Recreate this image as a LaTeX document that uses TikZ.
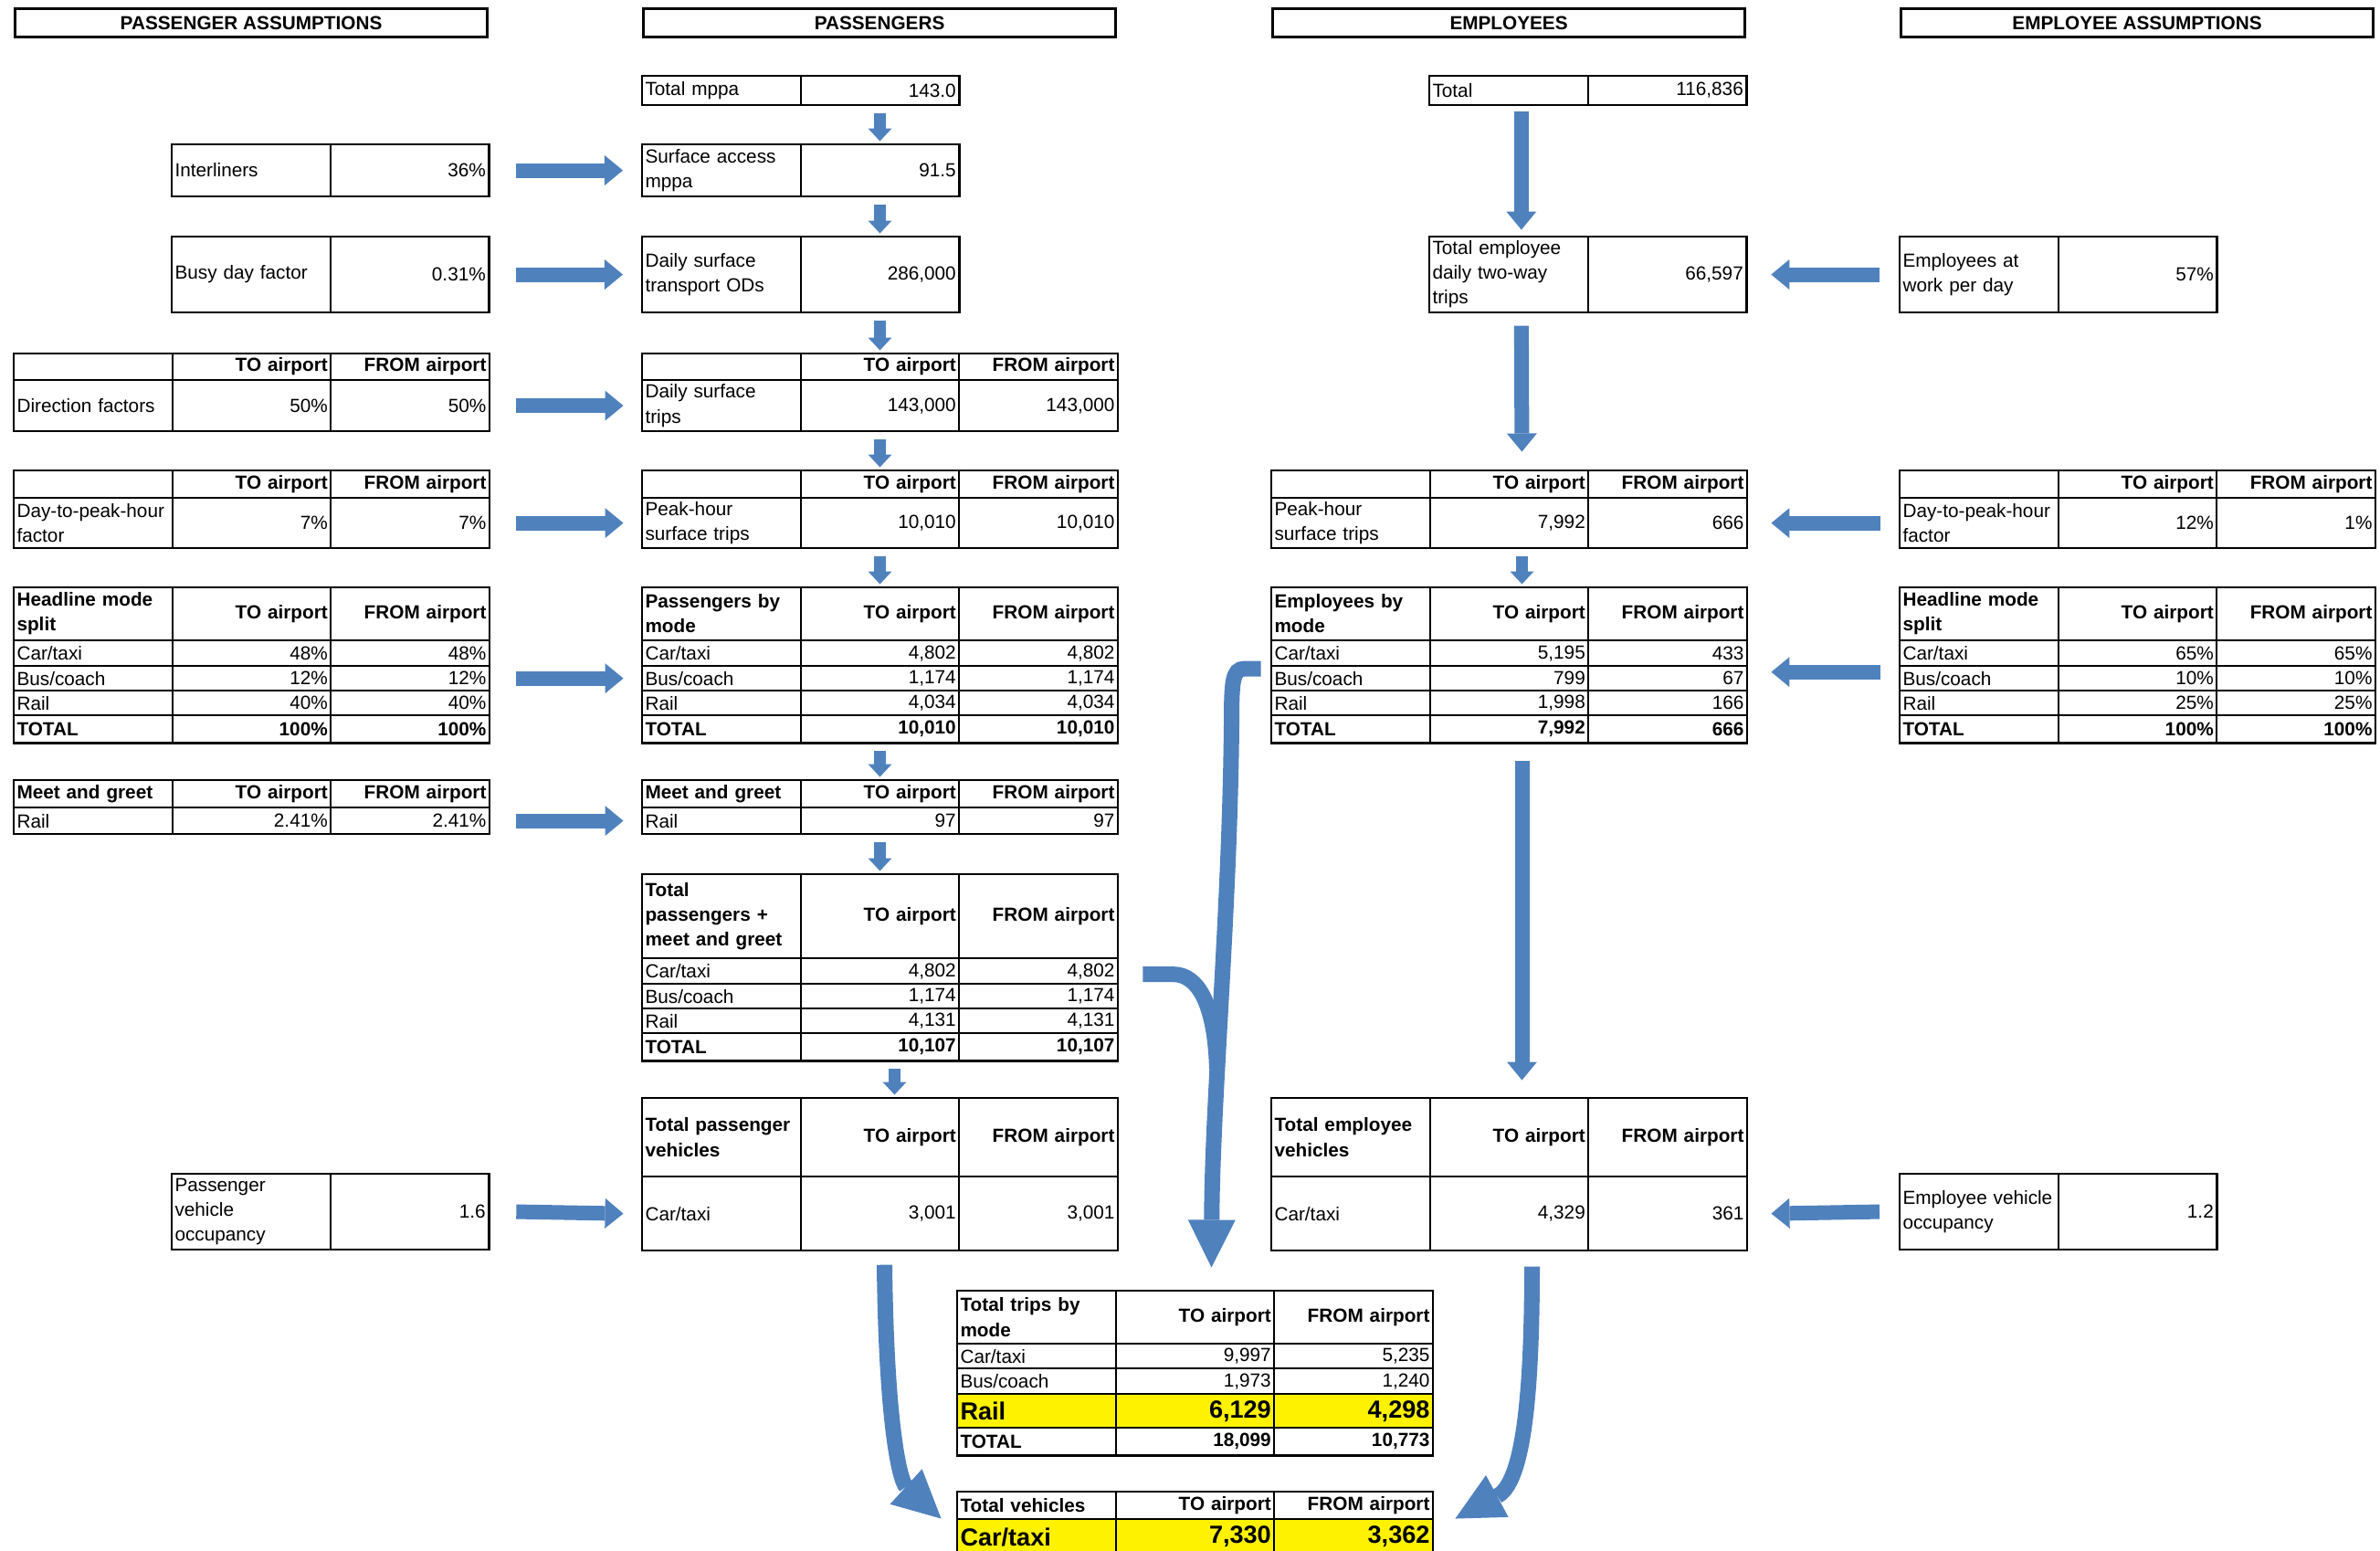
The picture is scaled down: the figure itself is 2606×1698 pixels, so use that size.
\documentclass[tikz,border=0pt]{standalone}
\usepackage{fontspec}
\setmainfont{Liberation Sans}
\usetikzlibrary{arrows.meta, positioning, matrix, calc}
\definecolor{arrblue}{RGB}{79,129,189}
\newcommand{\tabfont}{\fontsize{5.9}{7.7}\selectfont}
\newcommand{\yfont}{\fontsize{7.7}{9}\selectfont\bfseries}

\begin{document}
\begin{tikzpicture}[x=0.01cm, y=-0.01cm,
    tbl/.style={matrix of nodes, nodes in empty cells, draw, line width=0.7pt, inner sep=0pt, outer sep=0pt,
      anchor=north west, column sep=0pt, row sep=0pt,
      nodes={draw, line width=0.3pt, outer sep=0pt, inner xsep=0.03cm, inner ysep=0pt, text width=1.665cm,
        align=right, anchor=center, font=\tabfont},
      column 1/.style={nodes={align=left}}},
    hrow/.style={nodes={minimum height=#1, font=\tabfont\bfseries}},
    prow/.style={nodes={minimum height=#1}},
    yrow/.style={nodes={minimum height=#1, fill=yellow, font=\yfont}},
    pairtbl/.style={tbl, row 1/.style={hrow=0.29cm}, row 2/.style={prow=0.54cm}},
    modetbl/.style={tbl, row 1/.style={hrow=0.57cm}, row 2/.style={prow=0.27cm}, row 3/.style={prow=0.26cm},
      row 4/.style={prow=0.26cm}, row 5/.style={hrow=0.29cm}},
    headbox/.style={draw, line width=0.8pt, anchor=north west, minimum width=5.17cm, minimum height=0.31cm,
      inner sep=0pt, font=\tabfont\bfseries},
    flow/.style={draw=arrblue, line width=0.16cm, -{Triangle[length=0.2cm 0 0, width=0.33cm 0 0, line width=0pt 0 0]}},
    downarr/.style={draw=arrblue, line width=0.125cm, shorten <=0.09cm, shorten >=0.04cm,
      -{Triangle[length=0.14cm 0 0, width=0.26cm 0 0, line width=0pt 0 0]}},
    bigline/.style={draw=arrblue, line width=0.17cm},
    bigarr/.style={bigline, -{Triangle[length=0.52cm 0 0, width=0.52cm 0 0, line width=0pt 0 0]}}
]
\useasboundingbox (0,0) rectangle (2606,1698);

% Column headings
\node[headbox] (hpa) at (15,8) {PASSENGER ASSUMPTIONS};
\node[headbox] (hp) at (703,8) {PASSENGERS};
\node[headbox] (he) at (1392,8) {EMPLOYEES};
\node[headbox] (hea) at (2080,8) {EMPLOYEE ASSUMPTIONS};

% Passenger assumptions
\matrix[tbl, row 1/.style={prow=0.56cm}] (ainter) at (188,158) {Interliners & 36\% \\};
\matrix[tbl, row 1/.style={prow=0.82cm}] (abusy) at (188,259) {Busy day factor & 0.31\% \\};
\matrix[tbl, row 1/.style={hrow=0.28cm}, row 2/.style={prow=0.55cm}] (adir) at (15,387) {
  & TO airport & FROM airport \\
  Direction factors & 50\% & 50\% \\
};
\matrix[pairtbl] (apeak) at (15,515) {
  & TO airport & FROM airport \\
  Day-to-peak-hour\newline factor & 7\% & 7\% \\
};
\matrix[modetbl] (amode) at (15,643) {
  Headline mode\newline split & TO airport & FROM airport \\
  Car/taxi & 48\% & 48\% \\
  Bus/coach & 12\% & 12\% \\
  Rail & 40\% & 40\% \\
  TOTAL & 100\% & 100\% \\
};
\matrix[tbl, row 1/.style={hrow=0.29cm}, row 2/.style={prow=0.28cm}] (ameet) at (15,854) {
  Meet and greet & TO airport & FROM airport \\
  Rail & 2.41\% & 2.41\% \\
};
\matrix[tbl, row 1/.style={prow=0.82cm}] (aocc) at (188,1285) {Passenger\newline vehicle\newline occupancy & 1.6 \\};

% Passengers
\matrix[tbl, row 1/.style={prow=0.31cm}] (pmppa) at (703,83) {Total mppa & 143.0 \\};
\matrix[tbl, row 1/.style={prow=0.56cm}] (psurf) at (703,158) {Surface access\newline mppa & 91.5 \\};
\matrix[tbl, row 1/.style={prow=0.82cm}] (pods) at (703,259) {Daily surface\newline transport ODs & 286,000 \\};
\matrix[tbl, row 1/.style={hrow=0.28cm}, row 2/.style={prow=0.55cm}] (pdaily) at (703,387) {
  & TO airport & FROM airport \\
  Daily surface\newline trips & 143,000 & 143,000 \\
};
\matrix[pairtbl] (ppeak) at (703,515) {
  & TO airport & FROM airport \\
  Peak-hour\newline surface trips & 10,010 & 10,010 \\
};
\matrix[modetbl] (pmode) at (703,643) {
  Passengers by\newline mode & TO airport & FROM airport \\
  Car/taxi & 4,802 & 4,802 \\
  Bus/coach & 1,174 & 1,174 \\
  Rail & 4,034 & 4,034 \\
  TOTAL & 10,010 & 10,010 \\
};
\matrix[tbl, row 1/.style={hrow=0.29cm}, row 2/.style={prow=0.28cm}] (pmeet) at (703,854) {
  Meet and greet & TO airport & FROM airport \\
  Rail & 97 & 97 \\
};
\matrix[modetbl, row 1/.style={hrow=0.91cm}] (ptot) at (703,957) {
  Total\newline passengers +\newline meet and greet & TO airport & FROM airport \\
  Car/taxi & 4,802 & 4,802 \\
  Bus/coach & 1,174 & 1,174 \\
  Rail & 4,131 & 4,131 \\
  TOTAL & 10,107 & 10,107 \\
};
\matrix[tbl, row 1/.style={hrow=0.85cm}, row 2/.style={prow=0.80cm}] (pveh) at (703,1202) {
  Total passenger\newline vehicles & TO airport & FROM airport \\
  Car/taxi & 3,001 & 3,001 \\
};

% Employees
\matrix[tbl, row 1/.style={prow=0.31cm}] (etot) at (1565,83) {Total & 116,836 \\};
\matrix[tbl, row 1/.style={prow=0.82cm}] (etrips) at (1565,259) {Total employee\newline daily two-way\newline trips & 66,597 \\};
\matrix[pairtbl] (epeak) at (1392,515) {
  & TO airport & FROM airport \\
  Peak-hour\newline surface trips & 7,992 & 666 \\
};
\matrix[modetbl] (emode) at (1392,643) {
  Employees by\newline mode & TO airport & FROM airport \\
  Car/taxi & 5,195 & 433 \\
  Bus/coach & 799 & 67 \\
  Rail & 1,998 & 166 \\
  TOTAL & 7,992 & 666 \\
};
\matrix[tbl, row 1/.style={hrow=0.85cm}, row 2/.style={prow=0.80cm}] (eveh) at (1392,1202) {
  Total employee\newline vehicles & TO airport & FROM airport \\
  Car/taxi & 4,329 & 361 \\
};

% Employee assumptions
\matrix[tbl, row 1/.style={prow=0.82cm}] (awork) at (2080,259) {Employees at\newline work per day & 57\% \\};
\matrix[pairtbl] (aepeak) at (2080,515) {
  & TO airport & FROM airport \\
  Day-to-peak-hour\newline factor & 12\% & 1\% \\
};
\matrix[modetbl] (aemode) at (2080,643) {
  Headline mode\newline split & TO airport & FROM airport \\
  Car/taxi & 65\% & 65\% \\
  Bus/coach & 10\% & 10\% \\
  Rail & 25\% & 25\% \\
  TOTAL & 100\% & 100\% \\
};
\matrix[tbl, row 1/.style={prow=0.82cm}] (aeocc) at (2080,1285) {Employee vehicle\newline occupancy & 1.2 \\};

% Totals
\matrix[tbl, row 1/.style={hrow=0.57cm}, row 2/.style={prow=0.26cm}, row 3/.style={prow=0.27cm},
  row 4/.style={yrow=0.36cm}, row 5/.style={hrow=0.29cm}] (ttrips) at (1048,1413) {
  Total trips by\newline mode & TO airport & FROM airport \\
  Car/taxi & 9,997 & 5,235 \\
  Bus/coach & 1,973 & 1,240 \\
  Rail & 6,129 & 4,298 \\
  TOTAL & 18,099 & 10,773 \\
};
\matrix[tbl, row 1/.style={hrow=0.29cm}, row 2/.style={yrow=0.38cm}] (tveh) at (1048,1633) {
  Total vehicles & TO airport & FROM airport \\
  Car/taxi & 7,330 & 3,362 \\
};

% Assumptions feeding in from the sides
\draw[flow] ([xshift=0.3cm]ainter.east) -- ([xshift=-0.21cm]psurf.west);
\draw[flow] ([xshift=0.3cm]abusy.east) -- ([xshift=-0.21cm]pods.west);
\draw[flow] ([xshift=0.3cm]adir-2-3.east) -- ([xshift=-0.21cm]pdaily-2-1.west);
\draw[flow] ([xshift=0.3cm]apeak-2-3.east) -- ([xshift=-0.21cm]ppeak-2-1.west);
\draw[flow] ([xshift=0.3cm]amode-3-3.east) -- ([xshift=-0.21cm]pmode-3-1.west);
\draw[flow] ([xshift=0.3cm]ameet-2-3.east) -- ([xshift=-0.21cm]pmeet-2-1.west);
\draw[flow] ([xshift=0.3cm]aocc.east) -- ([xshift=-0.21cm]pveh-2-1.west);
\draw[flow] ([xshift=-0.22cm]awork.west) -- ([xshift=0.27cm]etrips.east);
\draw[flow] ([xshift=-0.22cm]aepeak-2-1.west) -- ([xshift=0.27cm]epeak-2-3.east);
\draw[flow] ([xshift=-0.22cm,yshift=0.07cm]aemode-3-1.west) -- ([xshift=0.27cm,yshift=0.07cm]emode-3-3.east);
\draw[flow] ([xshift=-0.22cm]aeocc.west) -- ([xshift=0.27cm]eveh-2-3.east);

% Passenger steps
\foreach \a/\b in {pmppa-1-2/psurf-1-2, psurf-1-2/pods-1-2, pods-1-2/pdaily-1-2, pdaily-2-2/ppeak-1-2,
                   ppeak-2-2/pmode-1-2, pmode-5-2/pmeet-1-2, pmeet-2-2/ptot-1-2}
  \draw[downarr] (\a.south) -- (\b.north);
\draw[downarr] ([xshift=0.16cm]ptot-5-2.south) -- ([xshift=0.16cm]pveh-1-2.north);

% Employee steps
\draw[flow, shorten <=0.07cm, shorten >=0.08cm] ([xshift=0.14cm]etot-1-1.south) -- ([xshift=0.14cm]etrips-1-1.north);
\draw[flow, shorten <=0.15cm, shorten >=0.21cm] ([xshift=0.14cm]etrips-1-1.south) -- ([xshift=0.14cm]epeak-1-2.north);
\draw[downarr] ([xshift=0.14cm]epeak-2-2.south) -- ([xshift=0.14cm]emode-1-2.north);
\draw[flow, shorten <=0.2cm, shorten >=0.2cm] ([xshift=0.14cm]emode-5-2.south) -- ([xshift=0.14cm]eveh-1-2.north);

% Car/taxi trips merge into the totals
\coordinate (emStart) at ([xshift=-0.12cm,yshift=-0.17cm]emode-2-1.west);
\coordinate (ptStart) at ([xshift=0.28cm,yshift=-0.035cm]ptot-2-3.east);
\coordinate (ttTop) at ([xshift=0.18cm,yshift=0.26cm]ttrips-1-2.north);
\coordinate (joinPt) at ($(ttTop)+(6,-217)$);
\draw[bigline] (ptStart) -- ++(33,0) .. controls +(28,0) and +(-2,-70) .. (joinPt);
\draw[bigarr] (emStart) -- ++(-18,0) .. controls +(-13,0) and +(0,-45) .. ++(-14,59)
  .. controls +(-2,210) and +(1,-187) .. (ttTop);

% Vehicles into the vehicle total
\coordinate (pvStart) at ([xshift=0.05cm,yshift=-0.16cm]pveh-2-2.south);
\coordinate (tvLeft) at ([xshift=-0.18cm]tveh-1-1.south west);
\coordinate (evStart) at ([xshift=0.25cm,yshift=-0.18cm]eveh-2-2.south);
\coordinate (tvRight) at ([xshift=0.25cm]tveh-1-3.south east);
\draw[bigarr] (pvStart) .. controls +(2,177) and +(-45,-41) .. (tvLeft);
\draw[bigarr] (evStart) .. controls +(0,175) and +(69,-37) .. (tvRight);
\end{tikzpicture}
\end{document}
